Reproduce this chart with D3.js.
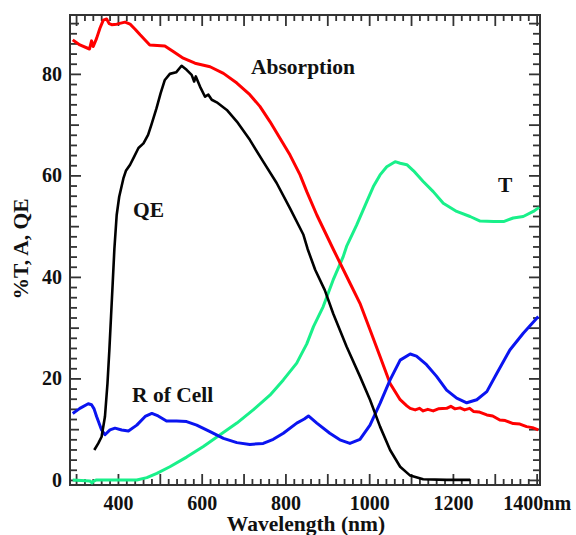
<!DOCTYPE html>
<html>
<head>
<meta charset="utf-8">
<script src="https://cdn.jsdelivr.net/npm/d3@7"></script>
<style>
  body { margin: 0; background: #fff; }
  text { font-family: "Liberation Serif", "Times New Roman", serif; font-weight: bold; fill: #111; }
</style>
</head>
<body>
<svg id="chart" width="576" height="535"></svg>
<script>
// wavelength (nm) / value (%) pairs
var absNm = [292, 309, 332, 337, 341, 349, 357, 365, 373, 379, 385, 397, 417, 429, 441, 453, 476, 512, 532, 556, 584, 620, 652, 684, 715, 739, 763, 787, 811, 835, 851, 875, 914, 954, 978, 1002, 1026, 1050, 1074, 1090, 1098, 1110, 1120, 1129, 1140, 1153, 1165, 1185, 1195, 1205, 1217, 1228, 1240, 1249, 1262, 1281, 1295, 1312, 1325, 1344, 1360, 1376, 1390, 1404];
var absVal = [86.7, 85.7, 84.9, 86.5, 85.4, 87.0, 89.0, 90.6, 90.8, 89.9, 89.7, 89.8, 90.2, 89.8, 88.8, 87.7, 85.7, 85.5, 84.4, 83.1, 82.1, 81.4, 80.1, 78.2, 75.9, 73.6, 70.6, 67.3, 64.0, 60.1, 56.8, 52.2, 45.5, 38.8, 34.8, 29.6, 24.3, 19.0, 15.8, 14.6, 14.1, 13.8, 14.1, 13.6, 13.9, 13.6, 14.0, 14.1, 14.5, 14.0, 14.2, 13.8, 14.1, 13.5, 13.4, 12.8, 12.6, 11.8, 11.7, 11.1, 11.0, 10.5, 10.3, 9.85];

var qeNm = [343.5, 353, 361, 369, 375, 379.5, 383.5, 387.5, 391.5, 397, 403, 413, 419, 429, 437, 449, 461, 472, 480, 492, 502, 512, 524, 539, 552, 564, 576, 582, 586, 596, 608, 616, 624, 636, 660, 684, 715, 747, 779, 811, 843, 853, 871, 894, 914, 946, 978, 1002, 1026, 1050, 1074, 1098, 1129, 1185, 1241];
var qeVal = [5.9, 7.2, 8.5, 12.5, 19.0, 25.6, 32.2, 38.8, 45.5, 52.2, 55.8, 59.4, 60.9, 62.1, 63.4, 65.4, 66.3, 68.0, 70.0, 73.2, 76.2, 78.8, 80.0, 80.3, 81.6, 80.8, 79.8, 78.5, 79.5, 77.5, 75.5, 75.9, 74.9, 74.4, 72.9, 70.6, 67.0, 62.7, 58.5, 53.5, 48.3, 45.5, 41.4, 37.4, 32.8, 26.3, 20.4, 15.8, 10.5, 5.9, 2.6, 0.85, 0.14, 0, 0];

var tNm = [292, 333, 338, 341, 349, 445, 469, 493, 524, 564, 604, 644, 684, 723, 763, 795, 827, 835, 851, 867, 890, 914, 938, 946, 970, 994, 1010, 1026, 1042, 1062, 1074, 1090, 1106, 1129, 1153, 1177, 1209, 1241, 1265, 1297, 1321, 1344, 1368, 1392, 1406];
var tVal = [0, -0.2, -0.6, -0.3, 0, 0, 0.46, 1.3, 2.6, 4.5, 6.6, 8.9, 11.2, 13.8, 16.7, 19.7, 23.0, 24.3, 26.8, 30.2, 34.1, 39.4, 44.0, 46.0, 50.2, 54.8, 57.8, 60.1, 61.7, 62.7, 62.4, 62.1, 60.9, 58.8, 56.8, 54.5, 52.9, 51.9, 51.0, 50.9, 50.9, 51.6, 51.9, 52.9, 53.7];

var rNm = [292, 309, 329, 337, 343, 349, 361, 369, 381, 393, 409, 425, 445, 465, 481, 496, 516, 540, 564, 588, 620, 652, 684, 715, 747, 771, 795, 827, 845, 855, 875, 906, 930, 954, 978, 1002, 1026, 1050, 1074, 1098, 1113, 1137, 1161, 1185, 1209, 1233, 1257, 1281, 1305, 1336, 1368, 1404];
var rVal = [13.1, 14.1, 15.0, 14.8, 14.0, 12.5, 9.85, 8.9, 9.85, 10.2, 9.85, 9.65, 10.8, 12.5, 13.1, 12.6, 11.6, 11.6, 11.5, 10.8, 9.5, 8.2, 7.35, 7.0, 7.2, 8.0, 9.2, 11.2, 12.0, 12.6, 11.2, 9.2, 7.9, 7.2, 8.0, 10.8, 15.1, 19.7, 23.6, 24.8, 24.4, 22.7, 20.4, 17.7, 16.1, 15.2, 15.8, 17.4, 21.0, 25.6, 28.9, 32.2];

var xTickLabels = [400, 600, 800, 1000, 1200, 1400];
var yTickLabels = [0, 20, 40, 60, 80];

(function () {
   "use strict";

   var svg = d3.select("#chart"),
      pLeft = 70, pRight = 540, pTop = 15, pBottom = 485;

   var x = d3.scaleLinear().domain([285.5, 1408]).range([pLeft, pRight]),
      y = d3.scaleLinear().domain([-1, 91.6]).range([pBottom, pTop]);

   function zip(xs, ys) {
      return xs.map(function (d, i) { return [d, ys[i]]; });
   }

   // one layer of inward ticks
   function drawTicks(axisFn, pos, values, len, fmt) {
      var g = svg.append("g").attr("transform", pos)
         .call(axisFn.tickValues(values).tickSizeInner(-len).tickSizeOuter(0)
            .tickFormat(fmt || ""));
      g.select(".domain").remove();
      g.selectAll(".tick line").attr("stroke", "#333").attr("stroke-width", 1.8);
      return g;
   }

   var xMinor = d3.range(300, 1408, 20).filter(function (d) { return d % 100 !== 0; }),
      xMajor = d3.range(300, 1408, 100),
      yMinor = d3.range(0, 91, 2).filter(function (d) { return d % 10 !== 0; }),
      yMid = [10, 30, 50, 70, 90];

   drawTicks(d3.axisBottom(x), "translate(0," + pBottom + ")", xMinor, 6);
   drawTicks(d3.axisTop(x), "translate(0," + pTop + ")", xMinor, 6);
   drawTicks(d3.axisTop(x), "translate(0," + pTop + ")", xMajor, 11);
   drawTicks(d3.axisLeft(y), "translate(" + pLeft + ",0)", yMinor, 7);
   drawTicks(d3.axisRight(y), "translate(" + pRight + ",0)", yMinor, 7);
   drawTicks(d3.axisLeft(y), "translate(" + pLeft + ",0)", yMid, 9);
   drawTicks(d3.axisRight(y), "translate(" + pRight + ",0)", yMid, 11);
   drawTicks(d3.axisRight(y), "translate(" + pRight + ",0)", yTickLabels, 11);

   var xAxis = drawTicks(d3.axisBottom(x).tickPadding(11), "translate(0," + pBottom + ")", xMajor, 11,
      function (d) { return xTickLabels.indexOf(d) < 0 ? "" : (d === 1400 ? "1400nm" : d); });
   xAxis.selectAll("text").attr("font-size", 20).attr("font-family", null);

   var yAxis = drawTicks(d3.axisLeft(y).tickPadding(8), "translate(" + pLeft + ",0)", yTickLabels, 11, d3.format("d"));
   yAxis.selectAll("text").attr("font-size", 20).attr("font-family", null);

   // frame
   svg.append("rect")
      .attr("x", pLeft).attr("y", pTop)
      .attr("width", pRight - pLeft).attr("height", pBottom - pTop)
      .attr("fill", "none").attr("stroke", "#333").attr("stroke-width", 2);

   svg.append("clipPath").attr("id", "plot")
      .append("rect").attr("x", pLeft).attr("y", pTop)
      .attr("width", pRight - pLeft).attr("height", pBottom - pTop);

   var line = d3.line().x(function (d) { return x(d[0]); }).y(function (d) { return y(d[1]); });

   var series = [
      { pts: zip(tNm, tVal), color: "#19f08a", w: 3 },
      { pts: zip(absNm, absVal), color: "#ff0000", w: 3 },
      { pts: zip(rNm, rVal), color: "#0a14f0", w: 3 },
      { pts: zip(qeNm, qeVal), color: "#000000", w: 2.6 }
   ];

   svg.append("g").attr("clip-path", "url(#plot)")
      .selectAll("path").data(series).enter().append("path")
      .attr("d", function (s) { return line(s.pts); })
      .attr("fill", "none")
      .attr("stroke", function (s) { return s.color; })
      .attr("stroke-width", function (s) { return s.w; })
      .attr("stroke-linejoin", "round");

   // curve labels
   var notes = [
      { t: "Absorption", x: 251, y: 74 },
      { t: "QE", x: 133, y: 217 },
      { t: "T", x: 498, y: 192 },
      { t: "R of Cell", x: 132, y: 402 }
   ];
   svg.selectAll(".note").data(notes).enter().append("text")
      .attr("class", "note")
      .attr("x", function (d) { return d.x; })
      .attr("y", function (d) { return d.y; })
      .attr("font-size", 21.5)
      .text(function (d) { return d.t; });

   svg.append("text")
      .attr("x", 306).attr("y", 531)
      .attr("text-anchor", "middle").attr("font-size", 21.5)
      .text("Wavelength (nm)");

   svg.append("text")
      .attr("transform", "translate(28,249) rotate(-90)")
      .attr("text-anchor", "middle").attr("font-size", 21.5)
      .text("%T, A, QE");
}());
</script>
</body>
</html>
